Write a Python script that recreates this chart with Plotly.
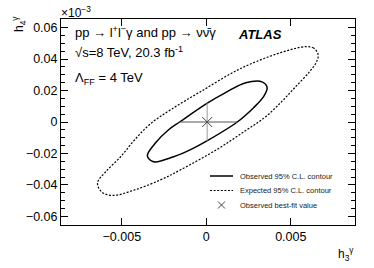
import plotly.graph_objects as go

# Observed 95% C.L. contour (h3, h4); h4 axis values as displayed (x10^-3)
obs_h3 = [0.00360, 0.00333, 0.00233, 0.00114, 0.00006, -0.00158, -0.00223, -0.00300,
          -0.00349, -0.00312, -0.00193, -0.00093, 0.00006, 0.00183, 0.00280, 0.00339, 0.00360]
obs_h4 = [0.0218, 0.0254, 0.0250, 0.0187, 0.0120, 0.0, -0.0049, -0.0132,
          -0.0215, -0.0253, -0.0221, -0.0176, -0.0119, 0.0, 0.0091, 0.0161, 0.0218]

# Expected 95% C.L. contour
exp_h3 = [0.00662, 0.00635, 0.00588, 0.00440, 0.00203, -0.00034, -0.00211, -0.00330,
          -0.00424, -0.00507, -0.00596, -0.00644, -0.00620, -0.00555, -0.00424, -0.00271,
          -0.00152, 0.00061, 0.00232, 0.00345, 0.00440, 0.00523, 0.00611, 0.00653, 0.00662]
exp_h4 = [0.0429, 0.0470, 0.0479, 0.0441, 0.0340, 0.0193, 0.0078, -0.0011,
          -0.0113, -0.0221, -0.0317, -0.0387, -0.0444, -0.0467, -0.0432, -0.0368,
          -0.0304, -0.0176, -0.0055, 0.0028, 0.0123, 0.0218, 0.0320, 0.0384, 0.0429]

# Observed best-fit value and 1D limits through it
best_h3 = [0.00005]
best_h4 = [0.0]
h3_limits = [-0.00158, 0.00183]
h4_limits = [-0.0119, 0.0120]

legend_labels = ["Observed 95% C.L. contour", "Expected 95% C.L. contour", "Observed best-fit value"]

W, H = 374, 268
L, R, T, B = 61, 19, 19, 43
PW, PH = W - L - R, H - T - B


def px(x):
    return (x - L) / PW


def py(y):
    return (H - B - y) / PH


FONT = "Liberation Sans, Arial, Helvetica, sans-serif"

fig = go.Figure()
fig.add_trace(go.Scatter(x=exp_h3, y=exp_h4, mode="lines",
                         line=dict(color="black", width=1.2, dash="2px,1.6px", shape="spline", smoothing=1.0),
                         showlegend=False, hoverinfo="skip"))
fig.add_trace(go.Scatter(x=obs_h3, y=obs_h4, mode="lines",
                         line=dict(color="black", width=1.5, shape="spline", smoothing=1.0),
                         showlegend=False, hoverinfo="skip"))
fig.add_trace(go.Scatter(x=h3_limits, y=[best_h4[0]] * 2, mode="lines",
                         line=dict(color="#555555", width=1), showlegend=False, hoverinfo="skip"))
fig.add_trace(go.Scatter(x=[best_h3[0]] * 2, y=h4_limits, mode="lines",
                         line=dict(color="#999999", width=1), showlegend=False, hoverinfo="skip"))
fig.add_trace(go.Scatter(x=best_h3, y=best_h4, mode="markers",
                         marker=dict(symbol="x-thin", size=10, line=dict(color="#444444", width=1)),
                         showlegend=False, hoverinfo="skip"))

# Manual legend
shapes = []
shapes.append(dict(type="line", xref="paper", yref="paper", x0=px(210), x1=px(233), y0=py(176), y1=py(176),
                   line=dict(color="black", width=1.5)))
shapes.append(dict(type="line", xref="paper", yref="paper", x0=px(210), x1=px(233), y0=py(190.5), y1=py(190.5),
                   line=dict(color="black", width=1.2, dash="2px,1.6px")))
shapes.append(dict(type="line", xref="paper", yref="paper", x0=px(218), x1=px(225), y0=py(201.5), y1=py(208.5),
                   line=dict(color="#444444", width=1)))
shapes.append(dict(type="line", xref="paper", yref="paper", x0=px(218), x1=px(225), y0=py(208.5), y1=py(201.5),
                   line=dict(color="#444444", width=1)))

annotations = []
for lab, yy in zip(legend_labels, [176, 190.5, 205]):
    annotations.append(dict(text=lab, xref="paper", yref="paper", x=px(238), y=py(yy), xanchor="left",
                            yanchor="middle", showarrow=False, font=dict(size=7.5, family=FONT, color="#222222")))

annotations += [
    dict(text="pp \u2192 l<sup>+</sup>l<sup>\u2212</sup>\u03b3 and pp \u2192 \u03bd\u03bd\u0304\u03b3", x=px(73), y=py(32)),
    dict(text="\u221as=8 TeV, 20.3 fb<sup>-1</sup>", x=px(73), y=py(52)),
    dict(text="\u039b<sub>FF</sub> = 4 TeV", x=px(73), y=py(78)),
]
for a in annotations[-3:]:
    a.update(xref="paper", yref="paper", xanchor="left", yanchor="middle", showarrow=False,
             font=dict(size=13, family=FONT, color="black"))

annotations += [
    dict(text="<b><i>ATLAS</i></b>", xref="paper", yref="paper", x=px(236), y=py(35), xanchor="left",
         yanchor="middle", showarrow=False, font=dict(size=13, family=FONT, color="black")),
    dict(text="\u00d710<sup>\u22123</sup>", xref="paper", yref="paper", x=px(59), y=py(12), xanchor="left",
         yanchor="middle", showarrow=False, font=dict(size=12, family=FONT, color="black")),
    dict(text="h<sub>4</sub><sup>\u03b3</sup>", xref="paper", yref="paper", x=px(19), y=py(24), xanchor="center",
         yanchor="middle", textangle=-90, showarrow=False, font=dict(size=12, family=FONT, color="black")),
    dict(text="h<sub>3</sub><sup>\u03b3</sup>", xref="paper", yref="paper", x=px(356), y=py(254), xanchor="right",
         yanchor="middle", showarrow=False, font=dict(size=12, family=FONT, color="black")),
]

axis_common = dict(showgrid=False, zeroline=False, showline=True, linecolor="black", linewidth=1,
                   mirror="allticks", ticks="inside", ticklen=7, tickcolor="black", tickwidth=1,
                   tickfont=dict(size=12.5, family=FONT, color="black"))

fig.update_layout(
    width=W, height=H, margin=dict(l=L, r=R, t=T, b=B),
    paper_bgcolor="white", plot_bgcolor="white",
    xaxis=dict(range=[-0.0086, 0.0088], tickmode="array", tickvals=[-0.005, 0, 0.005],
               ticktext=["\u22120.005", "0", "0.005"], **axis_common),
    yaxis=dict(range=[-0.0655, 0.0655], tickmode="array",
               tickvals=[-0.06, -0.04, -0.02, 0, 0.02, 0.04, 0.06],
               ticktext=["\u22120.06", "\u22120.04", "\u22120.02", "0", "0.02", "0.04", "0.06"],
               minor=dict(ticks="inside", ticklen=4, tickcolor="black", dtick=0.005, tick0=0, showgrid=False),
               **axis_common),
    shapes=shapes, annotations=annotations, showlegend=False,
)

fig.write_html("out.html", config={"displayModeBar": False, "staticPlot": True},
               post_script="document.body.style.margin='0px';document.body.style.overflow='hidden';")
